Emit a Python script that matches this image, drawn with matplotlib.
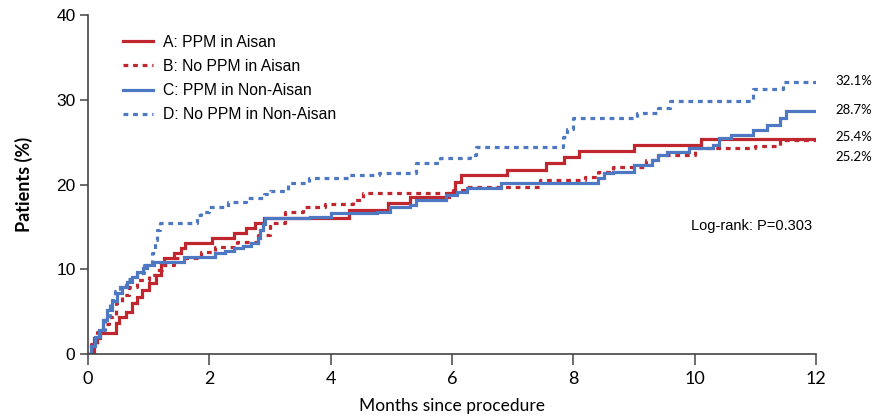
import matplotlib
matplotlib.use("Agg")
import matplotlib.pyplot as plt
from matplotlib.lines import Line2D

# ---- data (months, cumulative %) ----
A_t = [0, 0.1, 0.2, 0.46, 0.51, 0.63, 0.73, 0.8, 0.89, 1.0, 1.12, 1.2, 1.25, 1.42, 1.53, 1.6, 2.05, 2.4, 2.6, 2.75,
       2.9, 4.3, 4.95, 5.3, 5.95, 6.05, 6.15, 6.9, 7.55, 7.85, 8.1, 9.0, 10.1, 12]
A_v = [0, 1.9, 2.5, 3.6, 4.4, 5.0, 6.0, 6.7, 7.5, 8.4, 9.3, 10.7, 11.3, 11.9, 12.5, 13.1, 13.7, 14.3, 14.9, 15.5,
       16.0, 17.0, 17.8, 18.5, 19.0, 20.3, 21.1, 21.7, 22.5, 23.2, 24.0, 24.7, 25.4, 25.4]

B_t = [0, 0.05, 0.15, 0.25, 0.35, 0.46, 0.56, 0.68, 0.8, 1.0, 1.12, 1.22, 1.42, 1.86, 2.1, 2.45, 2.8, 3.0, 3.25, 3.55,
       3.9, 4.37, 4.53, 6.02, 6.2, 7.45, 8.2, 8.4, 8.65, 9.2, 9.4, 10.0, 11.0, 11.4, 12]
B_v = [0, 1.2, 2.6, 3.5, 4.4, 6.0, 7.0, 7.9, 8.7, 9.3, 9.9, 10.5, 11.3, 12.0, 12.6, 13.2, 14.0, 15.5, 16.8, 17.3,
       17.7, 18.2, 19.0, 19.3, 19.7, 20.5, 20.9, 21.5, 22.1, 22.9, 23.5, 24.3, 24.6, 25.2, 25.2]

C_t = [0, 0.05, 0.12, 0.18, 0.25, 0.31, 0.4, 0.48, 0.56, 0.64, 0.72, 0.8, 0.9, 0.97, 1.09, 1.58, 1.9, 2.1, 2.25, 2.4,
       2.55, 2.68, 2.8, 2.84, 2.88, 2.92, 3.66, 4.0, 4.76, 4.98, 5.3, 5.4, 5.9, 6.08, 6.25, 6.8, 8.4, 8.5, 8.65, 9.0,
       9.3, 9.4, 9.54, 9.9, 10.3, 10.4, 10.6, 10.96, 11.2, 11.4, 11.5, 12]
C_v = [0, 1.0, 2.0, 2.8, 4.0, 5.2, 6.2, 7.2, 7.9, 8.5, 9.1, 9.7, 10.2, 10.5, 10.9, 11.4, 11.5, 11.9, 12.2, 12.5,
       12.8, 13.1, 13.7, 14.6, 15.3, 16.0, 16.2, 16.6, 16.8, 17.3, 17.6, 18.2, 18.8, 19.1, 19.6, 20.2, 20.8, 21.3, 21.5, 22.3,
       22.9, 23.5, 23.8, 24.3, 24.7, 25.5, 25.8, 26.4, 27.0, 27.8, 28.7, 28.7]

D_t = [0, 0.05, 0.12, 0.2, 0.28, 0.36, 0.45, 0.53, 0.65, 0.8, 0.92, 1.05, 1.1, 1.14, 1.18, 1.8, 1.87, 2.0, 2.3, 2.6,
       2.9, 3.0, 3.3, 3.65, 4.3, 4.8, 5.4, 5.8, 6.3, 6.4, 7.83, 7.9, 8.0, 9.05, 9.4, 9.6, 10.96, 11.46, 12]
D_v = [0, 1.0, 2.0, 2.8, 4.5, 6.4, 7.4, 8.1, 8.8, 9.6, 10.5, 11.9, 13.4, 14.6, 15.5, 16.4, 16.8, 17.3, 17.9, 18.4,
       18.9, 19.2, 20.2, 20.8, 21.1, 21.4, 22.5, 23.1, 23.5, 24.4, 25.6, 26.6, 27.8, 28.4, 29.0, 29.8, 31.3, 32.1, 32.1]

labels = ["A: PPM in Aisan", "B: No PPM in Aisan", "C: PPM in Non-Aisan", "D: No PPM in Non-Aisan"]
end_labels = ["25.4%", "25.2%", "28.7%", "32.1%"]
x_ticks = [0, 2, 4, 6, 8, 10, 12]
y_ticks = [0, 10, 20, 30, 40]

RED = "#c0262d"
BLUE = "#4f78c2"
DOT = (0, (1.5, 1.5))

fig = plt.figure(figsize=(8.74, 4.17), dpi=100)
ax = fig.add_axes([88 / 874, 1 - 354 / 417, (816 - 88) / 874, (354 - 15) / 417])

series = [(A_t, A_v, RED, "-"), (B_t, B_v, RED, DOT), (C_t, C_v, BLUE, "-"), (D_t, D_v, BLUE, DOT)]
handles = []
for (t, v, c, ls), lab in zip(series, labels):
    ax.step(t, v, where="post", color=c, linestyle=ls, lw=2.3, solid_joinstyle="miter")
    handles.append(Line2D([], [], color=c, linestyle=ls, lw=2.3, label=lab))

ax.set_xlim(0, 12)
ax.set_ylim(0, 40)
ax.set_xticks(x_ticks)
ax.set_yticks(y_ticks)
for s in ["top", "right"]:
    ax.spines[s].set_visible(False)
for s in ["left", "bottom"]:
    ax.spines[s].set_color("#444444")
    ax.spines[s].set_linewidth(1.2)
ax.tick_params(axis="both", direction="out", color="#444444", width=1.1)
ax.tick_params(axis="x", length=8, pad=4)
ax.tick_params(axis="y", length=6, pad=3)
for lab in ax.get_xticklabels():
    lab.set_fontfamily("Lato")
    lab.set_fontsize(13)
for lab in ax.get_yticklabels():
    lab.set_fontfamily("Liberation Sans")
    lab.set_fontsize(12.5)

ax.set_xlabel("Months since procedure", fontfamily="Lato", fontsize=12.5, labelpad=8)
ax.set_ylabel("Patients (%)", fontfamily="Lato", fontsize=13, fontweight="bold", labelpad=17)

leg = ax.legend(handles=handles, loc="upper left", bbox_to_anchor=(0.04, 0.96), frameon=False,
                prop={"family": "Liberation Sans", "size": 11.3}, handlelength=1.9, handletextpad=0.6,
                labelspacing=0.58, borderaxespad=0)

end_y = [137, 157, 110, 81]
for txt, py in zip(end_labels, end_y):
    fig.text(835 / 874, 1 - py / 417, txt, fontfamily="Lato", fontsize=9.5, va="center", ha="left")

fig.text(812 / 874, 1 - 226 / 417, "Log-rank: P=0.303", fontfamily="Liberation Sans", fontsize=10.5,
         va="center", ha="right")

fig.savefig("out.png", dpi=100)
